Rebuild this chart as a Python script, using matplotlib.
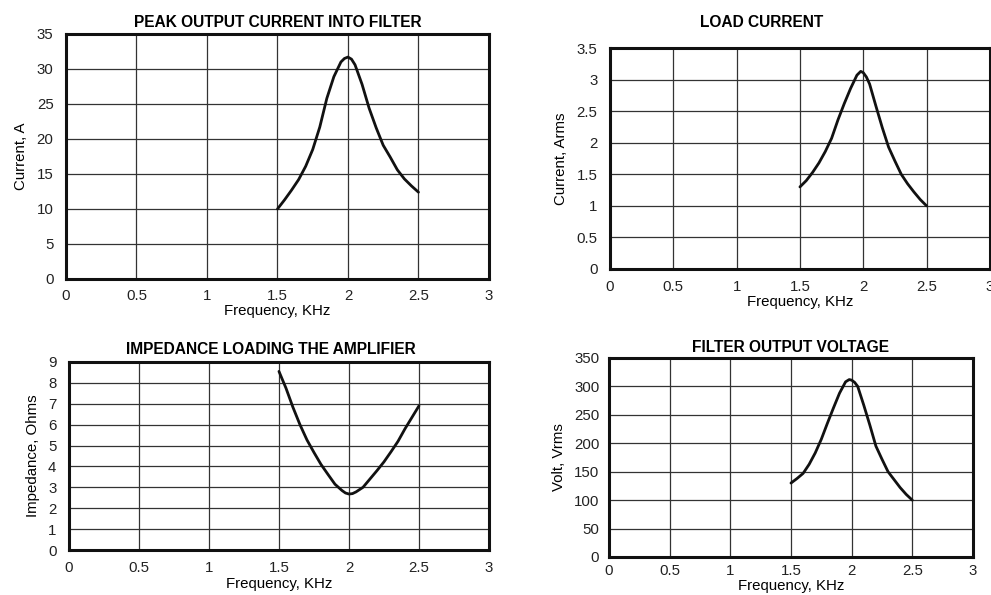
import matplotlib
matplotlib.use('Agg')
import matplotlib.pyplot as plt

plt.rcParams['font.family'] = ['Liberation Sans', 'DejaVu Sans']

# Peak output current into filter (A)
f_peak = [1.50, 1.55, 1.60, 1.65, 1.70, 1.75, 1.80, 1.85, 1.90, 1.95, 1.975, 2.00,
          2.025, 2.05, 2.10, 2.15, 2.20, 2.25, 2.30, 2.35, 2.40, 2.45, 2.50]
i_peak = [10.0, 11.3, 12.7, 14.2, 16.1, 18.5, 21.7, 25.8, 28.9, 31.0, 31.5, 31.7,
          31.4, 30.6, 27.8, 24.4, 21.6, 19.1, 17.4, 15.6, 14.3, 13.3, 12.4]

# Load current (Arms)
f_load = [1.50, 1.55, 1.60, 1.65, 1.70, 1.75, 1.80, 1.85, 1.90, 1.95, 1.98,
          2.00, 2.025, 2.05, 2.10, 2.15, 2.20, 2.25, 2.30, 2.35, 2.40, 2.45, 2.50]
i_load = [1.30, 1.40, 1.53, 1.68, 1.86, 2.07, 2.36, 2.62, 2.86, 3.07, 3.13,
          3.11, 3.04, 2.93, 2.58, 2.24, 1.93, 1.71, 1.50, 1.35, 1.22, 1.10, 1.00]

# Impedance loading the amplifier (Ohms)
f_imp = [1.50, 1.55, 1.60, 1.65, 1.70, 1.75, 1.80, 1.85, 1.90, 1.95, 1.975, 2.00,
         2.025, 2.05, 2.10, 2.15, 2.20, 2.25, 2.30, 2.35, 2.40, 2.45, 2.50]
z_imp = [8.55, 7.75, 6.83, 6.00, 5.27, 4.67, 4.10, 3.62, 3.15, 2.85, 2.73, 2.68,
         2.70, 2.78, 3.00, 3.40, 3.80, 4.22, 4.70, 5.20, 5.80, 6.35, 6.90]

# Filter output voltage (Vrms)
f_volt = [1.50, 1.55, 1.60, 1.65, 1.70, 1.75, 1.80, 1.85, 1.90, 1.95, 1.98,
          2.00, 2.025, 2.05, 2.10, 2.15, 2.20, 2.25, 2.30, 2.35, 2.40, 2.45, 2.50]
v_out = [130, 138, 147, 163, 183, 207, 235, 262, 288, 308, 312,
         311, 307, 300, 267, 232, 195, 172, 150, 136, 122, 110, 100]

x_ticks = [0, 0.5, 1, 1.5, 2, 2.5, 3]
x_labels = ['0', '0.5', '1', '1.5', '2', '2.5', '3']


def style(ax, title, ylabel, ymax, ystep, ylabels, tx=0.5, tpad=5, xpad=7, ypad=8):
    ax.set_xlim(0, 3)
    ax.set_ylim(0, ymax)
    ax.set_xticks(x_ticks)
    ax.set_xticklabels(x_labels)
    yt = [i * ystep for i in range(len(ylabels))]
    ax.set_yticks(yt)
    ax.set_yticklabels(ylabels)
    ax.grid(True, color='#333333', linewidth=0.9)
    ax.set_axisbelow(True)
    ax.tick_params(length=0, labelsize=10.8, colors='#222222')
    ax.tick_params(axis='x', pad=xpad)
    ax.tick_params(axis='y', pad=ypad)
    for s in ax.spines.values():
        s.set_linewidth(2.2)
        s.set_color('#111111')
    ax.set_title(title, fontsize=11.2, fontweight='bold', x=tx, pad=tpad)
    ax.set_xlabel('Frequency, KHz', fontsize=10.8, labelpad=1)
    ax.set_ylabel(ylabel, fontsize=10.8, labelpad=6)


fig = plt.figure(figsize=(9.91, 5.95), dpi=100)
line_kw = dict(color='#111111', linewidth=2.0, solid_joinstyle='round', solid_capstyle='round')

ax1 = fig.add_axes([0.0666, 0.5311, 0.4268, 0.4118])
ax1.plot(f_peak, i_peak, **line_kw)
style(ax1, 'PEAK OUTPUT CURRENT INTO FILTER', 'Current, A', 35, 5,
      ['0', '5', '10', '15', '20', '25', '30', '35'], tpad=5, xpad=7, ypad=9)

ax2 = fig.add_axes([0.6155, 0.5479, 0.3834, 0.3714])
ax2.plot(f_load, i_load, **line_kw)
style(ax2, 'LOAD CURRENT', 'Current, Arms', 3.5, 0.5,
      ['0', '0.5', '1', '1.5', '2', '2.5', '3', '3.5'], tx=0.4, tpad=15, xpad=8, ypad=9)

ax3 = fig.add_axes([0.0696, 0.0756, 0.4238, 0.3160])
ax3.plot(f_imp, z_imp, **line_kw)
style(ax3, 'IMPEDANCE LOADING THE AMPLIFIER', 'Impedance, Ohms', 9, 1,
      [str(i) for i in range(10)], tx=0.48, tpad=6, xpad=8, ypad=9)

ax4 = fig.add_axes([0.6145, 0.0639, 0.3673, 0.3345])
ax4.plot(f_volt, v_out, **line_kw)
style(ax4, 'FILTER OUTPUT VOLTAGE', 'Volt, Vrms', 350, 50,
      ['0', '50', '100', '150', '200', '250', '300', '350'], tpad=4, xpad=5, ypad=7)

fig.savefig('out.png', dpi=100)
